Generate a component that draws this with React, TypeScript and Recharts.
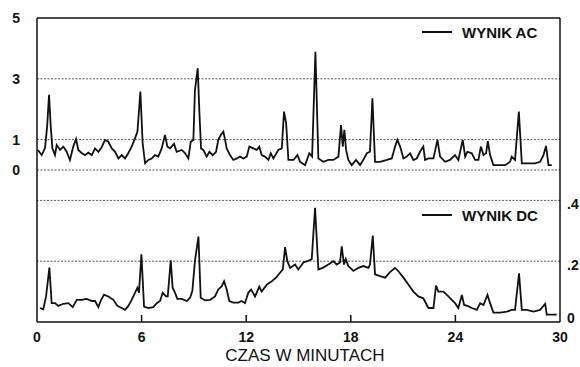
import React from 'react';
import { LineChart, Line, XAxis, YAxis, ReferenceLine, Legend, Label } from 'recharts';

// time in minutes
const acTimes = [
  0.05, 0.27, 0.46, 0.58, 0.69, 0.79, 0.88, 1.03, 1.13, 1.32, 1.51, 1.7, 1.89, 2.08, 2.24, 2.37, 2.56, 2.75, 2.94,
  3.14, 3.33, 3.52, 3.71, 3.9, 4.09, 4.29, 4.48, 4.67, 4.86, 5.05, 5.24, 5.43, 5.62, 5.76, 5.93, 6.06, 6.2, 6.39,
  6.58, 6.77, 6.96, 7.15, 7.34, 7.48, 7.63, 7.86, 8.01, 8.3, 8.49, 8.68, 8.82, 8.97, 9.06, 9.22, 9.31, 9.41, 9.54,
  9.73, 9.89, 10.08, 10.27, 10.4, 10.54, 10.69, 10.79, 10.88, 11.07, 11.26, 11.46, 11.65, 11.84, 12.03, 12.18,
  12.41, 12.6, 12.75, 12.89, 13.08, 13.27, 13.41, 13.56, 13.84, 14.04, 14.17, 14.29, 14.42, 14.71, 14.94, 15.09,
  15.38, 15.62, 15.78, 15.97, 16.14, 16.43, 16.71, 17.0, 17.29, 17.44, 17.54, 17.63, 17.73, 17.86, 18.05, 18.3,
  18.53, 18.76, 18.92, 19.1, 19.24, 19.39, 19.68, 20.06, 20.35, 20.54, 20.67, 20.83, 21.02, 21.21, 21.4, 21.59,
  21.78, 21.97, 22.16, 22.26, 22.45, 22.74, 22.97, 23.12, 23.41, 23.69, 23.98, 24.17, 24.42, 24.56, 24.69, 24.94,
  25.13, 25.32, 25.46, 25.61, 25.76, 25.86, 25.99, 26.18, 26.56, 26.85, 27.14, 27.23, 27.42, 27.64, 27.81, 28.19,
  28.57, 28.86, 29.05, 29.2, 29.34, 29.53,
];
const acValues = [
  0.66, 0.49, 0.72, 1.42, 2.47, 1.42, 0.72, 0.49, 0.82, 0.66, 0.77, 0.6, 0.33, 0.77, 1.02, 0.66, 0.56, 0.49, 0.57,
  0.49, 0.71, 0.6, 0.75, 0.99, 0.93, 0.71, 0.6, 0.38, 0.49, 0.38, 0.56, 0.77, 1.04, 1.26, 2.58, 0.88, 0.22, 0.33,
  0.38, 0.49, 0.44, 0.71, 1.15, 0.77, 0.71, 0.86, 0.6, 0.66, 0.56, 0.38, 0.93, 0.99, 2.63, 3.35, 1.97, 0.71, 0.66,
  0.44, 0.6, 0.49, 0.6, 0.99, 1.15, 1.26, 0.99, 0.71, 0.49, 0.33, 0.38, 0.44, 0.38, 0.44, 0.77,
  0.71, 0.66, 0.77, 0.49, 0.44, 0.33, 0.55, 0.38, 0.66, 0.71, 1.92, 1.54, 0.33, 0.33, 0.49, 0.27,
  0.16, 0.55, 0.44, 3.89, 0.38, 0.27, 0.33, 0.33, 0.44, 1.48, 0.77, 1.32, 0.66, 0.33, 0.16, 0.33,
  0.16, 0.38, 0.55, 0.6, 2.36, 0.27, 0.27, 0.33, 0.38, 0.77, 0.99, 0.77, 0.38, 0.44, 0.55, 0.33,
  0.38, 0.6, 0.77, 0.33, 0.38, 0.38, 0.99, 0.44, 0.27, 0.33, 0.49, 0.33, 0.99, 0.44, 0.6, 0.55,
  0.33, 0.33, 0.77, 0.49, 0.55, 0.95, 0.49, 0.16, 0.16, 0.16, 0.27, 0.44, 0.33, 1.92, 0.22, 0.22,
  0.22, 0.27, 0.49, 0.79, 0.16, 0.16,
];

const dcTimes = [
  0.17, 0.36, 0.52, 0.71, 0.84, 1.03, 1.22, 1.51, 1.8, 2.05, 2.28, 2.56, 2.85, 3.14, 3.33, 3.52, 3.65, 3.84, 4.09,
  4.38, 4.61, 4.86, 5.05, 5.24, 5.43, 5.62, 5.76, 5.85, 5.99, 6.14, 6.39, 6.67, 6.87, 7.06, 7.21, 7.4, 7.5, 7.67,
  7.78, 7.92, 8.05, 8.3, 8.59, 8.78, 8.91, 9.06, 9.26, 9.39, 9.64, 9.93, 10.21, 10.4, 10.6, 10.73, 10.88, 11.03,
  11.26, 11.55, 11.74, 11.93, 12.12, 12.28, 12.51, 12.75, 12.89, 13.18, 13.47, 13.71, 13.94, 14.1, 14.23, 14.36,
  14.52, 14.8, 14.99, 15.28, 15.51, 15.76, 15.95, 16.14, 16.39, 16.71, 17.0, 17.19, 17.38, 17.48, 17.61, 17.71,
  17.86, 18.15, 18.43, 18.72, 19.01, 19.1, 19.26, 19.39, 19.68, 19.97, 20.25, 20.54, 20.73, 21.02, 21.3, 21.59,
  21.88, 22.16, 22.45, 22.74, 22.89, 23.02, 23.31, 23.6, 23.79, 23.98, 24.17, 24.37, 24.5, 24.69, 24.94, 25.23,
  25.42, 25.61, 25.84, 25.99, 26.18, 26.56, 26.95, 27.23, 27.42, 27.65, 27.81, 28.1, 28.48, 28.86, 29.15, 29.24,
  29.62, 29.81,
];
const dcValues = [
  0.046, 0.042, 0.084, 0.179, 0.062, 0.062, 0.053, 0.06, 0.062, 0.049, 0.073, 0.073, 0.076, 0.069, 0.069, 0.049,
  0.069, 0.09, 0.084, 0.073, 0.053, 0.046, 0.04, 0.053, 0.073, 0.096, 0.113, 0.096, 0.223, 0.051, 0.046, 0.049,
  0.062, 0.069, 0.096, 0.084, 0.084, 0.203, 0.113, 0.096, 0.076, 0.076, 0.069, 0.08, 0.102, 0.201, 0.281, 0.08,
  0.071, 0.073, 0.084, 0.107, 0.118, 0.134, 0.107, 0.069, 0.064, 0.064, 0.069, 0.062, 0.096, 0.107, 0.084, 0.116,
  0.1, 0.123, 0.134, 0.146, 0.162, 0.173, 0.246, 0.2, 0.178, 0.189, 0.173, 0.196, 0.2, 0.207, 0.376, 0.173, 0.178,
  0.189, 0.2, 0.189, 0.196, 0.249, 0.189, 0.207, 0.184, 0.168, 0.178, 0.184, 0.178, 0.189, 0.284, 0.157, 0.151,
  0.146, 0.164, 0.178, 0.167, 0.146, 0.123, 0.1, 0.084, 0.078, 0.046, 0.046, 0.12, 0.1, 0.1, 0.084, 0.073, 0.062,
  0.046, 0.089, 0.056, 0.053, 0.046, 0.04, 0.062, 0.056, 0.089, 0.062, 0.031, 0.031, 0.034, 0.04, 0.04, 0.16,
  0.04, 0.04, 0.034, 0.04, 0.06, 0.024, 0.024, 0.024,
];

const xTicks = [0, 6, 12, 18, 24, 30];
const acTicks = [0, 1, 3, 5];
const dcTicks = [0, 0.2, 0.4];
const acGrid = [0, 1, 3];
const dcGrid = [0.2, 0.4];

const acData = acTimes.map((t, i) => ({ t, ac: acValues[i] }));
const dcData = dcTimes.map((t, i) => ({ t, dc: dcValues[i] }));

const INK = '#111';

const TimeTick = (props: any) => {
  const { x, y, payload } = props;
  const inner = payload.value > 0 && payload.value < 30;
  return (
    <g>
      {inner && <line x1={x} x2={x} y1={y} y2={y - 7} stroke={INK} strokeWidth={1.5} />}
      <text x={x} y={y + 20} textAnchor="middle" fontSize={14} fontWeight="bold" fill={INK}>
        {payload.value}
      </text>
    </g>
  );
};

const DcTick = (props: any) => {
  const { x, y, payload } = props;
  const v = payload.value;
  const label = v === 0 ? '0' : String(v).replace(/^0/, '');
  return (
    <text x={x + 7} y={y + (v === 0 ? -4 : 4)} dy="0.35em" fontSize={14} fontWeight="bold" fill={INK}>
      {label}
    </text>
  );
};

const renderLegend = (props: any) => {
  const { payload } = props;
  return (
    <div style={{ position: 'relative', width: 580, height: 367 }}>
      {(payload || []).map((entry: any, i: number) => (
        <div
          key={entry.value}
          style={{
            position: 'absolute',
            left: 422,
            top: i === 0 ? 23 : 206,
            height: 18,
            display: 'flex',
            alignItems: 'center',
          }}
        >
          <span style={{ display: 'inline-block', width: 30, height: 2, background: INK, marginRight: 10 }} />
          <span style={{ fontSize: 15, fontWeight: 'bold', color: INK, whiteSpace: 'nowrap' }}>{entry.value}</span>
        </div>
      ))}
    </div>
  );
};

export default function App() {
  return (
    <div
      style={{
        position: 'absolute',
        left: 0,
        top: 0,
        width: 580,
        height: 367,
        background: '#fff',
        fontFamily: '"Liberation Sans", Arial, sans-serif',
      }}
    >
      <LineChart width={580} height={367} margin={{ top: 18, right: 0, bottom: 0, left: 0 }}>
        <XAxis
          type="number"
          dataKey="t"
          domain={[0, 30]}
          ticks={xTicks}
          height={45}
          stroke={INK}
          strokeWidth={1.5}
          tickSize={0}
          tickMargin={0}
          tick={<TimeTick />}
          allowDuplicatedCategory={false}
        >
          <Label
            content={() => (
              <text x={305} y={361} textAnchor="middle" fontSize={17} fill={INK}>
                CZAS W MINUTACH
              </text>
            )}
          />
        </XAxis>
        <YAxis
          yAxisId="ac"
          type="number"
          domain={[-5, 5]}
          ticks={acTicks}
          width={37}
          stroke={INK}
          strokeWidth={1.5}
          tickLine={false}
          tickSize={0}
          tickMargin={17}
          tick={{ fontSize: 14, fontWeight: 'bold', fill: INK }}
        />
        <YAxis
          yAxisId="dc"
          orientation="right"
          type="number"
          domain={[0, 1]}
          ticks={dcTicks}
          width={20}
          stroke={INK}
          strokeWidth={1.5}
          tickLine={false}
          tickSize={0}
          tickMargin={0}
          tick={<DcTick />}
        />

        <ReferenceLine yAxisId="ac" y={5} stroke={INK} strokeWidth={1.5} />
        {acGrid.map((v) => (
          <ReferenceLine key={`ac-${v}`} yAxisId="ac" y={v} stroke="#555" strokeDasharray="2 1.5" />
        ))}
        {dcGrid.map((v) => (
          <ReferenceLine key={`dc-${v}`} yAxisId="dc" y={v} stroke="#555" strokeDasharray="2 1.5" />
        ))}

        <Line
          yAxisId="ac"
          data={acData}
          dataKey="ac"
          name="WYNIK AC"
          type="linear"
          stroke={INK}
          strokeWidth={1.8}
          dot={false}
          isAnimationActive={false}
        />
        <Line
          yAxisId="dc"
          data={dcData}
          dataKey="dc"
          name="WYNIK DC"
          type="linear"
          stroke={INK}
          strokeWidth={1.8}
          dot={false}
          isAnimationActive={false}
        />
        <Legend
          layout="horizontal"
          verticalAlign="middle"
          align="center"
          content={renderLegend}
          wrapperStyle={{ position: 'absolute', left: 0, top: 0, width: 580, height: 367, pointerEvents: 'none' }}
        />
      </LineChart>
    </div>
  );
}
